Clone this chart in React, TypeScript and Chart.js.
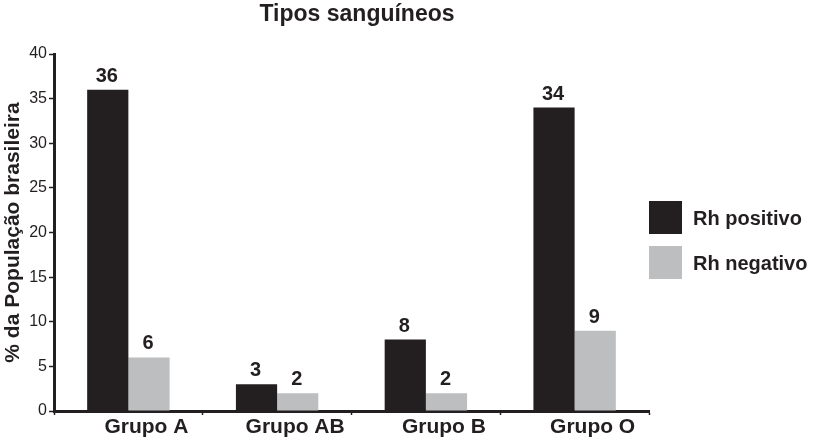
import React, { useEffect, useRef } from 'react'
import { Chart, registerables, ChartConfiguration, Plugin } from 'chart.js'

Chart.register(...registerables)

const categories = ['Grupo A', 'Grupo AB', 'Grupo B', 'Grupo O']
const rhPositivo = [36, 3, 8, 34]
const rhNegativo = [6, 2, 2, 9]
const seriesNames = ['Rh positivo', 'Rh negativo']
const yTicks = [0, 5, 10, 15, 20, 25, 30, 35, 40]

const INK = '#231f20'
const GRAY = '#bcbec0'
const FONT = '"Liberation Sans", Arial, Helvetica, sans-serif'

// value labels above the bars
const valueLabels: Plugin<'bar'> = {
  id: 'valueLabels',
  afterDatasetsDraw(chart) {
    const { ctx } = chart
    ctx.save()
    ctx.font = `bold 20px ${FONT}`
    ctx.fillStyle = INK
    ctx.textAlign = 'center'
    ctx.textBaseline = 'alphabetic'
    chart.data.datasets.forEach((ds, i) => {
      chart.getDatasetMeta(i).data.forEach((el, j) => {
        ctx.fillText(String(ds.data[j]), el.x - 1, el.y - 8)
      })
    })
    ctx.restore()
  }
}

// title and legend drawn where the original puts them
const decor: Plugin<'bar'> = {
  id: 'decor',
  afterDraw(chart) {
    const { ctx } = chart
    ctx.save()
    ctx.fillStyle = INK
    ctx.font = `bold 23px ${FONT}`
    ctx.textAlign = 'center'
    ctx.textBaseline = 'middle'
    ctx.fillText('Tipos sanguíneos', 357, 15)

    const left = chart.chartArea.right
    ctx.font = `bold 20px ${FONT}`
    ctx.textAlign = 'left'
    chart.data.datasets.forEach((ds, i) => {
      const top = 201 + i * 45
      ctx.fillStyle = ds.backgroundColor as string
      ctx.fillRect(left, top, 33, 33)
      ctx.fillStyle = INK
      ctx.fillText(String(ds.label), left + 44, top + 18)
    })
    ctx.restore()
  }
}

const App: React.FC = () => {
  const chartRef = useRef<HTMLCanvasElement | null>(null)

  useEffect(() => {
    if (!chartRef.current) return
    Chart.defaults.font.family = FONT

    const config: ChartConfiguration<'bar'> = {
      type: 'bar',
      data: {
        labels: categories,
        datasets: [
          { label: seriesNames[0], data: rhPositivo, backgroundColor: INK },
          { label: seriesNames[1], data: rhNegativo, backgroundColor: GRAY }
        ]
      },
      options: {
        responsive: true,
        maintainAspectRatio: false,
        animation: false,
        categoryPercentage: 0.554,
        barPercentage: 1,
        layout: { padding: { top: 54, right: 167, left: 0, bottom: 0 } },
        plugins: {
          legend: { display: false },
          title: { display: false },
          tooltip: { enabled: false }
        },
        scales: {
          x: {
            afterFit: (scale) => {
              scale.height = 29
            },
            border: { display: true, color: INK, width: 3 },
            grid: {
              display: true,
              drawOnChartArea: false,
              drawTicks: true,
              tickLength: 4,
              tickColor: INK,
              tickWidth: 1.5
            },
            ticks: {
              color: INK,
              font: { size: 21, weight: 'bold' },
              padding: 0,
              labelOffset: 18,
              maxRotation: 0
            }
          },
          y: {
            min: 0,
            max: 40,
            afterFit: (scale) => {
              scale.width = 54
            },
            afterBuildTicks: (scale) => {
              scale.ticks = yTicks.map((v) => ({ value: v }))
            },
            border: { display: true, color: INK, width: 3 },
            grid: {
              display: true,
              drawOnChartArea: false,
              drawTicks: true,
              tickLength: 5,
              tickColor: INK,
              tickWidth: 1.5
            },
            ticks: {
              color: INK,
              font: { size: 16 },
              padding: 2
            },
            title: {
              display: true,
              text: '% da População brasileira',
              color: INK,
              font: { size: 21, weight: 'bold' },
              padding: { top: 1, bottom: 0 }
            }
          }
        }
      },
      plugins: [valueLabels, decor]
    }

    const chart = new Chart(chartRef.current, config)
    return () => {
      chart.destroy()
    }
  }, [])

  return (
    <div style={{ position: 'absolute', left: 0, top: 0, width: 816, height: 440, background: '#fff' }}>
      <canvas ref={chartRef} />
    </div>
  )
}

export default App
